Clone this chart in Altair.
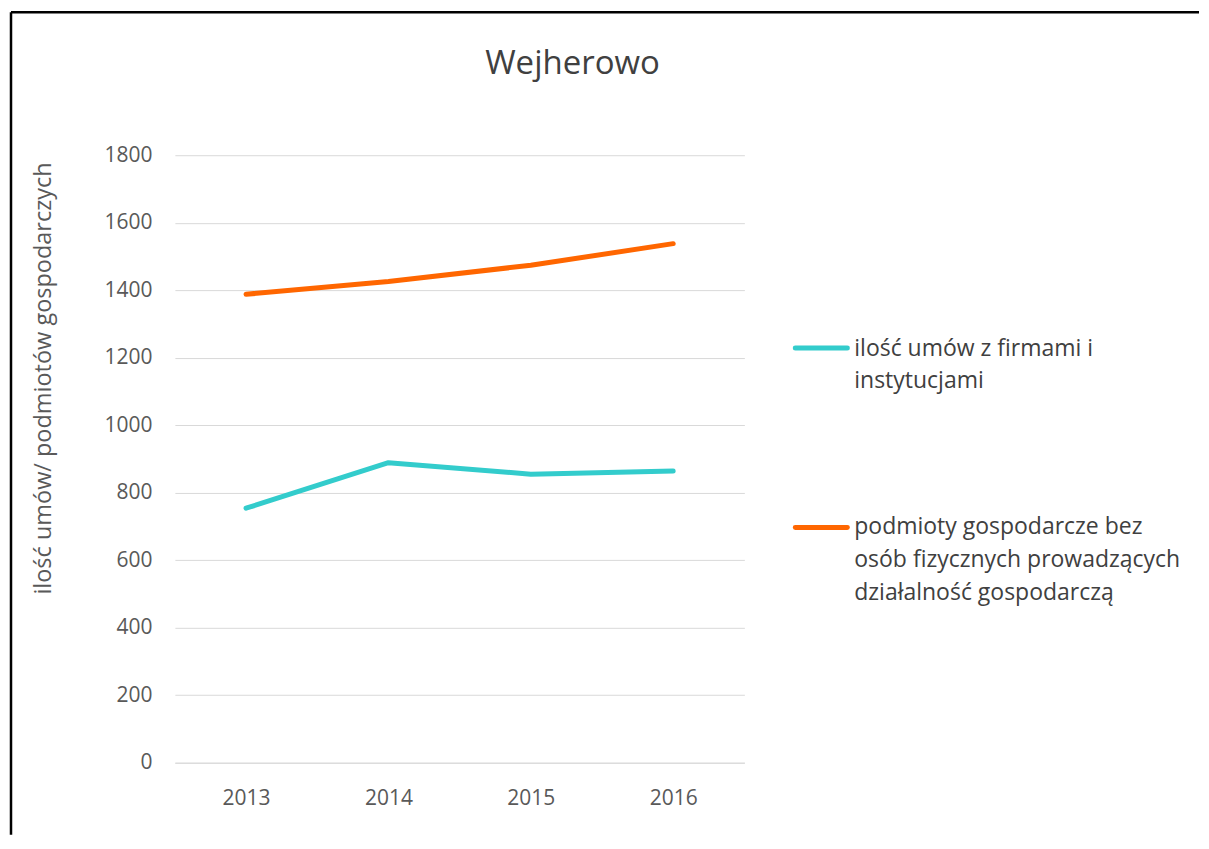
import altair as alt
import pandas as pd

years = ["2013", "2014", "2015", "2016"]
series_names = [
    "ilość umów z firmami i instytucjami",
    "podmioty gospodarcze bez osób fizycznych prowadzących działalność gospodarczą",
]
umowy = [754, 889, 855, 864]
podmioty = [1388, 1426, 1474, 1538]
legend_lines_1 = ["ilość umów z firmami i", "instytucjami"]
legend_lines_2 = ["podmioty gospodarcze bez", "osób fizycznych prowadzących", "działalność gospodarczą"]
colors = ["#33CCCC", "#FF6600"]

rows = []
for name, vals in zip(series_names, [umowy, podmioty]):
    for y, v in zip(years, vals):
        rows.append({"rok": y, "seria": name, "wartosc": v})
df = pd.DataFrame(rows)

FONT = "Open Sans"
color_scale = alt.Scale(domain=series_names, range=colors)

lines = alt.Chart(df).mark_line(strokeWidth=5, strokeCap="round", strokeJoin="round").encode(
    x=alt.X("rok:O", scale=alt.Scale(type="point", padding=0.5),
            axis=alt.Axis(title=None, labelAngle=0, labelFontSize=21, labelColor="#595959",
                          labelFont=FONT, domainColor="#D9D9D9", ticks=False, labelPadding=25)),
    y=alt.Y("wartosc:Q", scale=alt.Scale(domain=[0, 1800]),
            axis=alt.Axis(title="ilość umów/ podmiotów gospodarczych", values=list(range(0, 1801, 200)),
                          format="d",
                          labelFontSize=21, labelColor="#595959", labelFont=FONT,
                          domain=False, ticks=False, labelPadding=23,
                          gridColor="#D9D9D9", gridWidth=1,
                          titleFontSize=23.5, titleFont=FONT, titleColor="#595959", titleFontWeight="normal",
                          titleX=-131, titleY=223, titleAngle=270, titleAlign="center", titleBaseline="middle")),
    color=alt.Color("seria:N", scale=color_scale, legend=None),
)

one = pd.DataFrame({"seria": [series_names[0]]})
two = pd.DataFrame({"seria": [series_names[1]]})

leg_sym1 = alt.Chart(one).mark_rule(strokeWidth=5, strokeCap="round").encode(
    x=alt.value(621), x2=alt.value(673), y=alt.value(193), color=alt.Color("seria:N", scale=color_scale, legend=None))
leg_sym2 = alt.Chart(two).mark_rule(strokeWidth=5, strokeCap="round").encode(
    x=alt.value(621), x2=alt.value(673), y=alt.value(372.5), color=alt.Color("seria:N", scale=color_scale, legend=None))
leg_txt1 = alt.Chart(one).mark_text(align="left", baseline="alphabetic", font=FONT, fontSize=23,
                                    lineHeight=32, color="#404040").encode(
    x=alt.value(680), y=alt.value(201), text=alt.value(legend_lines_1))
leg_txt2 = alt.Chart(two).mark_text(align="left", baseline="alphabetic", font=FONT, fontSize=23,
                                    lineHeight=33, color="#404040").encode(
    x=alt.value(680), y=alt.value(379), text=alt.value(legend_lines_2))

k = pd.DataFrame({"k": [0]})
border_top = alt.Chart(k).mark_rule(color="#000000", strokeWidth=2.5).encode(
    x=alt.value(-164), x2=alt.value(1025), y=alt.value(-143))
border_left = alt.Chart(k).mark_rule(color="#000000", strokeWidth=2.5).encode(
    x=alt.value(-164), y=alt.value(-143), y2=alt.value(680))

chart = alt.layer(lines, leg_sym1, leg_sym2, leg_txt1, leg_txt2, border_top, border_left).properties(
    width=570, height=608,
    padding={"left": 1, "top": 2, "right": 0, "bottom": 0},
    title=alt.TitleParams("Wejherowo", fontSize=33, font=FONT, color="#404040", fontWeight="normal",
                          anchor="middle", dx=113, offset=-96, baseline="alphabetic"),
).configure_view(strokeWidth=0)

chart.save("out.html", embed_options={"renderer": "svg", "actions": False})
